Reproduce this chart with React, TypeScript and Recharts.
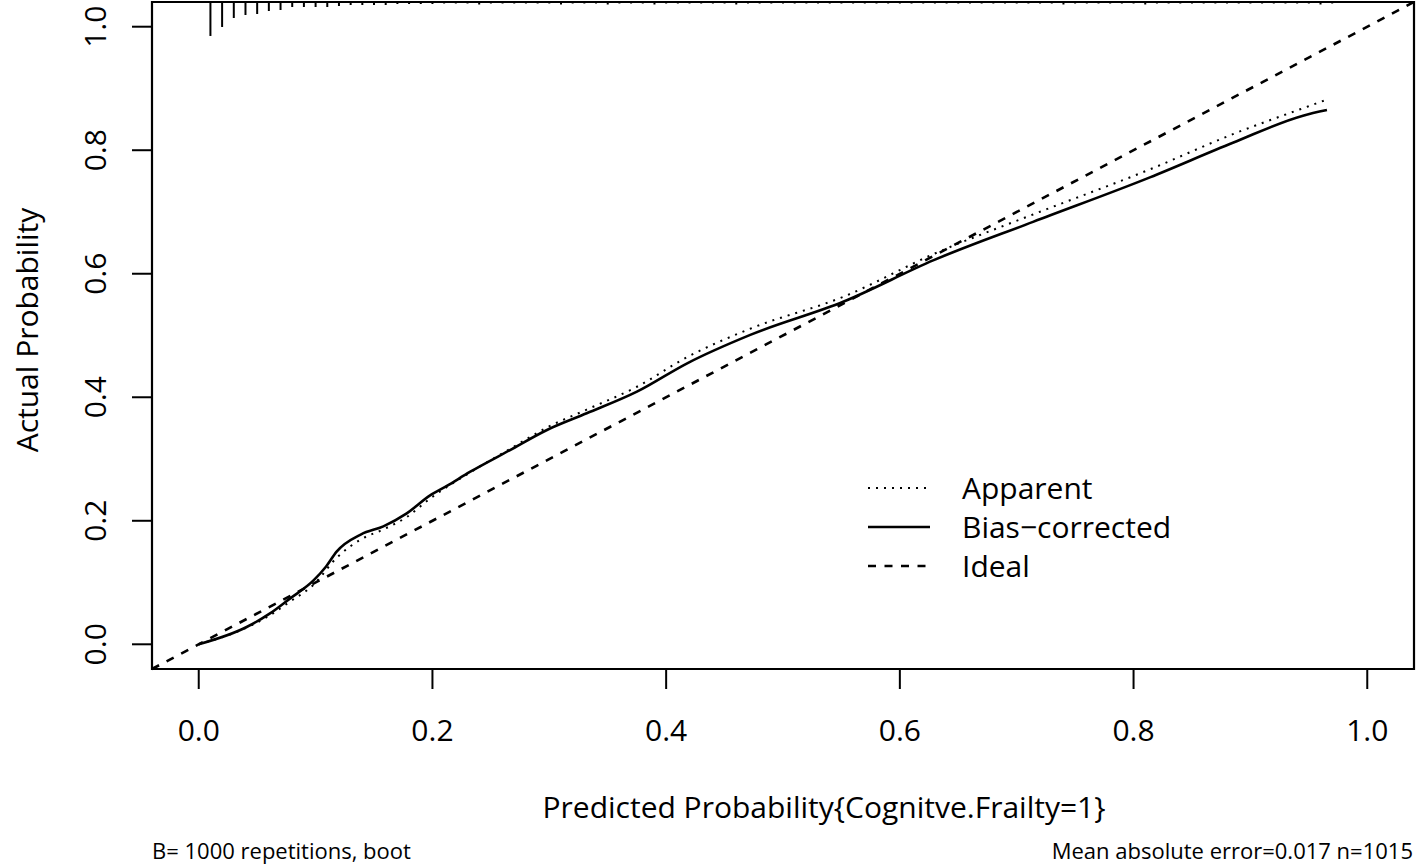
import React from 'react';
import { LineChart, Line, XAxis, YAxis, ReferenceLine, ReferenceArea, Legend } from 'recharts';

const apparentX = [0, 0.041, 0.061, 0.078, 0.098, 0.118, 0.139, 0.158, 0.178, 0.198, 0.232, 0.266, 0.298, 0.332, 0.375, 0.418, 0.472, 0.552, 0.629, 0.714, 0.814, 0.885, 0.945, 0.9655];
const apparentY = [0, 0.027, 0.047, 0.069, 0.096, 0.14, 0.17, 0.186, 0.206, 0.236, 0.278, 0.316, 0.351, 0.38, 0.417, 0.465, 0.511, 0.563, 0.632, 0.696, 0.769, 0.826, 0.868, 0.882];
const biasX = [0, 0.041, 0.061, 0.078, 0.098, 0.109, 0.118, 0.139, 0.158, 0.178, 0.198, 0.212, 0.232, 0.266, 0.298, 0.332, 0.375, 0.418, 0.472, 0.552, 0.629, 0.714, 0.814, 0.885, 0.945, 0.9655];
const biasY = [0, 0.028, 0.05, 0.074, 0.103, 0.126, 0.15, 0.178, 0.191, 0.212, 0.241, 0.256, 0.279, 0.314, 0.347, 0.374, 0.409, 0.455, 0.501, 0.555, 0.622, 0.684, 0.756, 0.812, 0.856, 0.865];

// distribution of predicted risk (spikes along the top)
const rugX = [0.01, 0.02, 0.03, 0.04, 0.05, 0.06, 0.07, 0.08, 0.09, 0.1, 0.11, 0.12, 0.13, 0.14, 0.15, 0.16, 0.17, 0.18, 0.19, 0.2,
  0.21, 0.22, 0.23, 0.24, 0.25, 0.26, 0.27, 0.28, 0.29, 0.3, 0.31, 0.32, 0.33, 0.34, 0.35, 0.36, 0.37, 0.38, 0.39, 0.4,
  0.41, 0.42, 0.43, 0.44, 0.45, 0.46, 0.47, 0.48, 0.49, 0.5, 0.51, 0.52, 0.53, 0.54, 0.55, 0.56, 0.57, 0.58, 0.59, 0.6,
  0.61, 0.62, 0.63, 0.64, 0.65, 0.66, 0.67, 0.68, 0.69, 0.7, 0.71, 0.72, 0.73, 0.74, 0.75, 0.76, 0.77, 0.78, 0.79, 0.8,
  0.81, 0.82, 0.83, 0.84, 0.85, 0.86, 0.87, 0.88, 0.89, 0.9, 0.91, 0.92, 0.93, 0.94, 0.95, 0.96, 0.97];
const rugFreq = [34, 25, 16, 13, 12, 9, 8, 5, 5, 5, 5, 4, 3, 3, 3, 3, 2, 2, 2, 2,
  1.5, 1.5, 1.5, 2.5, 1.5, 1.5, 1.5, 1.5, 1.5, 1.5, 2.5, 1.5, 1.5, 1.5, 2.5, 1.5, 1.5, 1.5, 2.5, 1.5,
  1.5, 1.5, 1.5, 1.5, 1.5, 2.5, 1.5, 1.5, 1.5, 1.5, 1.5, 1.5, 1.5, 1.5, 1.5, 1.5, 1.5, 1.5, 1.5, 1.5,
  1.5, 1.5, 1.5, 1.5, 1.5, 1.5, 1.5, 1.5, 1.5, 1.5, 1.5, 1.5, 1.5, 2.5, 1.5, 1.5, 1.5, 1.5, 1.5, 1.5,
  2.5, 1.5, 1.5, 1.5, 1.5, 1.5, 1.5, 1.5, 1.5, 1.5, 1.5, 1.5, 1.5, 1.5, 1.5, 2.5, 1.5];

const ticks = [0, 0.2, 0.4, 0.6, 0.8, 1.0];
const legendNames = ['Apparent', 'Bias\u2212corrected', 'Ideal'];

const FONT = '"Open Sans", sans-serif';
const LO = -0.04;
const HI = 1.04;
const RUG_SCALE = 0.055 / 34;

const pts = (xs: number[], ys: number[]) => xs.map((x, i) => ({ x, y: ys[i] }));

function YTick({ x, y, payload }: any) {
  const cx = x - 24;
  return (
    <text x={cx} y={y} transform={`rotate(-90, ${cx}, ${y})`} textAnchor="middle"
      fontSize={30} fontFamily={FONT} fill="#000">
      {Number(payload.value).toFixed(1)}
    </text>
  );
}

function LegendBox() {
  const dashes = ['2 6', undefined, '8 8.5'];
  return (
    <svg width={330} height={120}>
      {legendNames.map((name, i) => (
        <g key={name}>
          <line x1={8} x2={70} y1={23 + i * 39} y2={23 + i * 39} stroke="#000"
            strokeWidth={i === 0 ? 2 : 2.6} strokeDasharray={dashes[i]} />
          <text x={102} y={23 + i * 39} dy="0.35em" fontSize={30} fontFamily={FONT} fill="#000">{name}</text>
        </g>
      ))}
    </svg>
  );
}

export default function App() {
  return (
    <div style={{ position: 'absolute', left: 0, top: 0, width: 1416, height: 866, background: '#fff' }}>
      <LineChart width={1416} height={866} margin={{ top: 2, right: 2, bottom: 77, left: 0 }}>
        <XAxis type="number" dataKey="x" domain={[LO, HI]} ticks={ticks} allowDataOverflow
          tickFormatter={(v: number) => v.toFixed(1)} tickSize={20} tickMargin={31} height={120}
          axisLine={false} tickLine={{ stroke: '#000', strokeWidth: 2 }}
          tick={{ fontSize: 30, fontFamily: FONT, fill: '#000' }} />
        <YAxis type="number" dataKey="y" domain={[LO, HI]} ticks={ticks} allowDataOverflow
          tickSize={20} width={152} axisLine={false} tickLine={{ stroke: '#000', strokeWidth: 2 }}
          tick={<YTick />} />
        <ReferenceArea x1={LO} x2={HI} y1={LO} y2={HI} fill="none" fillOpacity={0}
          stroke="#000" strokeWidth={2.2} ifOverflow="visible" />
        {rugX.map((x, i) => (
          <ReferenceLine key={x} segment={[{ x, y: HI }, { x, y: HI - rugFreq[i] * RUG_SCALE }]}
            stroke="#000" strokeWidth={2} ifOverflow="visible" />
        ))}
        <Line data={pts(apparentX, apparentY)} dataKey="y" name={legendNames[0]} type="monotone"
          stroke="#000" strokeWidth={2} strokeDasharray="2 6" dot={false} isAnimationActive={false} />
        <Line data={pts(biasX, biasY)} dataKey="y" name={legendNames[1]} type="monotone"
          stroke="#000" strokeWidth={2.6} dot={false} isAnimationActive={false} />
        <ReferenceLine segment={[{ x: LO, y: LO }, { x: HI, y: HI }]} stroke="#000"
          strokeWidth={2.6} strokeDasharray="8 8.5" ifOverflow="visible" />
        <Legend layout="horizontal" verticalAlign="middle" align="center" content={<LegendBox />}
          wrapperStyle={{ position: 'absolute', left: 860, top: 465, width: 330 }} />
      </LineChart>
      <svg width={1416} height={866} style={{ position: 'absolute', left: 0, top: 0, pointerEvents: 'none' }}>
        <text x={38} y={330} transform="rotate(-90, 38, 330)" textAnchor="middle" fontSize={30} fontFamily={FONT} fill="#000">
          Actual Probability
        </text>
        <text x={824} y={818} textAnchor="middle" fontSize={30} fontFamily={FONT} fill="#000">
          Predicted Probability{'{'}Cognitve.Frailty=1{'}'}
        </text>
        <text x={152} y={859} fontSize={22} fontFamily={FONT} fill="#000">B= 1000 repetitions, boot</text>
        <text x={1413} y={859} textAnchor="end" fontSize={22} fontFamily={FONT} fill="#000">
          Mean absolute error=0.017 n=1015
        </text>
      </svg>
    </div>
  );
}
